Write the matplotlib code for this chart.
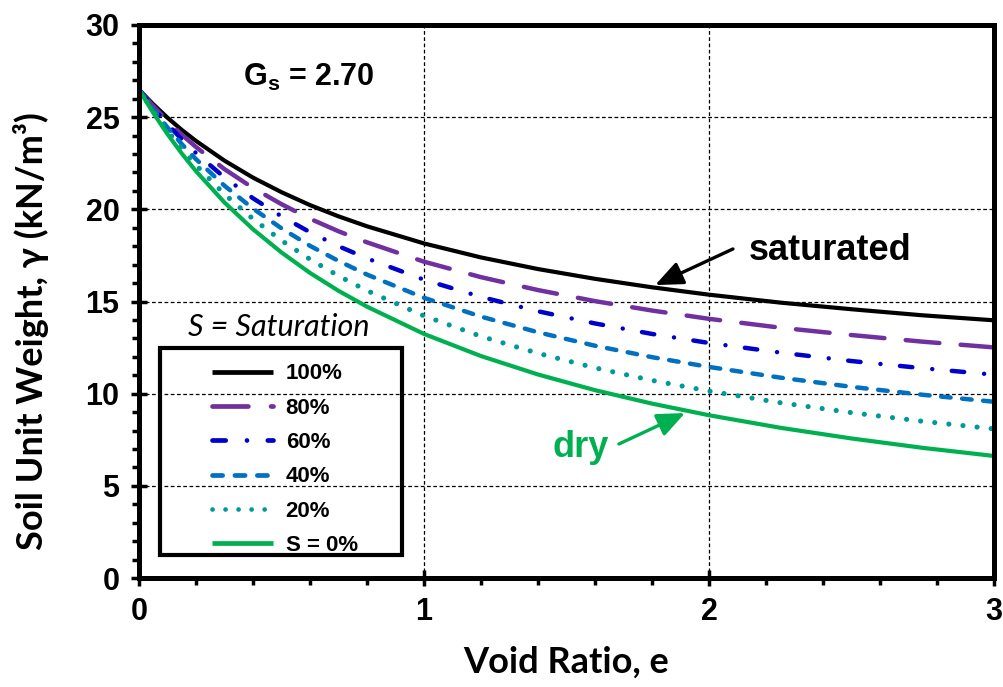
import matplotlib
matplotlib.use("Agg")
import matplotlib.pyplot as plt
from matplotlib.patches import Rectangle
from matplotlib.ticker import MultipleLocator

# void ratio and unit weight readings (kN/m3) for each degree of saturation
void_ratio = [0, 0.05, 0.1, 0.15, 0.2, 0.3, 0.4, 0.5, 0.6, 0.7, 0.8,
              1.0, 1.2, 1.4, 1.6, 1.8, 2.0, 2.25, 2.5, 2.75, 3.0]
gamma_100 = [26.49, 25.70, 24.97, 24.31, 23.71, 22.64, 21.72, 20.93, 20.23, 19.62, 19.08,
             18.15, 17.39, 16.76, 16.23, 15.77, 15.37, 14.94, 14.58, 14.25, 13.98]
gamma_80 = [26.49, 25.60, 24.79, 24.05, 23.38, 22.18, 21.16, 20.28, 19.49, 18.81, 18.21,
            17.16, 16.32, 15.62, 15.02, 14.51, 14.06, 13.58, 13.18, 12.82, 12.51]
gamma_60 = [26.49, 25.51, 24.62, 23.80, 23.05, 21.73, 20.60, 19.62, 18.76, 18.00, 17.34,
            16.18, 15.25, 14.47, 13.81, 13.24, 12.75, 12.23, 11.77, 11.38, 11.03]
gamma_40 = [26.49, 25.41, 24.44, 23.54, 22.72, 21.28, 20.04, 18.97, 18.02, 17.20, 16.46,
            15.20, 14.18, 13.33, 12.60, 11.98, 11.45, 10.87, 10.37, 9.94, 9.56]
gamma_20 = [26.49, 25.32, 24.26, 23.29, 22.40, 20.82, 19.48, 18.31, 17.29, 16.39, 15.59,
            14.22, 13.11, 12.19, 11.40, 10.72, 10.14, 9.51, 8.97, 8.50, 8.09]
gamma_0 = [26.49, 25.23, 24.08, 23.03, 22.07, 20.37, 18.92, 17.66, 16.55, 15.58, 14.72,
           13.24, 12.04, 11.04, 10.19, 9.46, 8.83, 8.15, 7.57, 7.06, 6.62]

labels = ['100%', '80%', '60%', '40%', '20%', 'S = 0%']

arial = ['Liberation Sans', 'DejaVu Sans']
calibri = ['Lato', 'DejaVu Sans']

plt.rcParams['font.family'] = arial
plt.rcParams['font.weight'] = 'bold'
plt.rcParams['mathtext.fontset'] = 'custom'
plt.rcParams['mathtext.rm'] = 'Liberation Sans:bold'
plt.rcParams['mathtext.bf'] = 'Liberation Sans:bold'
plt.rcParams['mathtext.it'] = 'Liberation Sans:bold'

fig = plt.figure(figsize=(10.04, 6.87), dpi=100)
W, H = 1004, 687
ax = fig.add_axes([139 / W, 1 - 578 / H, (994 - 139) / W, (578 - 25) / H])

styles = [
    dict(color='black', lw=3.0, ls='-'),
    dict(color='#7030A0', lw=3.2, dashes=(7.6, 4.8)),
    dict(color='#0000CC', lw=3.2, dashes=(2.8, 4.5, 0.01, 4.4)),
    dict(color='#0070C0', lw=3.2, dashes=(2.15, 2.6)),
    dict(color='#009999', lw=3.7, dashes=(0.01, 2.75)),
    dict(color='#00B050', lw=3.0, ls='-'),
]
series = [gamma_100, gamma_80, gamma_60, gamma_40, gamma_20, gamma_0]
for vals, lab, st in zip(series, labels, styles):
    ax.plot(void_ratio, vals, label=lab, dash_capstyle='round',
            solid_capstyle='butt', **st)

ax.set_xlim(0, 3)
ax.set_ylim(0, 30)
ax.xaxis.set_major_locator(MultipleLocator(1))
ax.xaxis.set_minor_locator(MultipleLocator(0.2))
ax.yaxis.set_major_locator(MultipleLocator(5))
ax.yaxis.set_minor_locator(MultipleLocator(1))
ax.grid(True, which='major', color='black', lw=0.9, ls=(0, (3, 2)))
ax.set_axisbelow(True)

for sp in ax.spines.values():
    sp.set_linewidth(3.6)
ax.tick_params(which='major', direction='inout', length=12, width=2.5, pad=8,
               labelsize=22, top=False, right=False)
ax.tick_params(which='minor', direction='out', length=5, width=2.5,
               top=False, right=False)

ax.set_xlabel('Void Ratio, e', family=calibri, fontweight='bold', fontsize=26, va='center')
ax.xaxis.set_label_coords(0.5, (578 - 662) / 553)
ax.set_ylabel('Soil Unit Weight, γ (kN/m³)', family=calibri, fontweight='bold',
              fontsize=26, va='center')
ax.yaxis.set_label_coords((31 - 139) / 855, (578 - 331) / 553)

ax.text(0.596, 27.13, r'$\mathbf{G_s}$ = 2.70', fontsize=22, ha='center', va='center')

# annotations
ax.text(2.14, 17.75, 'saturated', fontsize=26, ha='left', va='center')
ax.annotate('', xy=(1.811, 15.89), xytext=(2.084, 17.85),
            arrowprops=dict(arrowstyle='-|>,head_length=0.8,head_width=0.34',
                            color='black', lw=2.4, mutation_scale=21,
                            shrinkA=0, shrinkB=0))
ax.text(1.55, 7.1, 'dry', fontsize=26, ha='center', va='center', color='#00B050')
ax.annotate('', xy=(1.916, 8.95), xytext=(1.684, 7.27),
            arrowprops=dict(arrowstyle='-|>,head_length=0.8,head_width=0.34',
                            color='#00B050', lw=2.4, mutation_scale=21,
                            shrinkA=0, shrinkB=0))

# legend
fig.text(279 / W, 1 - 327 / H, 'S = Saturation', family=calibri, style='italic',
         fontweight='normal', fontsize=22, ha='center', va='center')
fig.patches.append(Rectangle((160 / W, 1 - 555 / H), 242 / W, 207 / H,
                             transform=fig.transFigure, fill=False,
                             edgecolor='black', lw=3, zorder=5))
leg = ax.legend(loc='upper left', bbox_to_anchor=(199 / W, 1 - 350 / H),
                bbox_transform=fig.transFigure, borderaxespad=0, frameon=False,
                prop=dict(family=arial, weight='bold', size=16),
                handlelength=2.75, handletextpad=0.55, labelspacing=0.6, borderpad=0.6)
for h in leg.get_lines():
    h.set_linewidth(3.4)

fig.savefig('out.png', dpi=100)
